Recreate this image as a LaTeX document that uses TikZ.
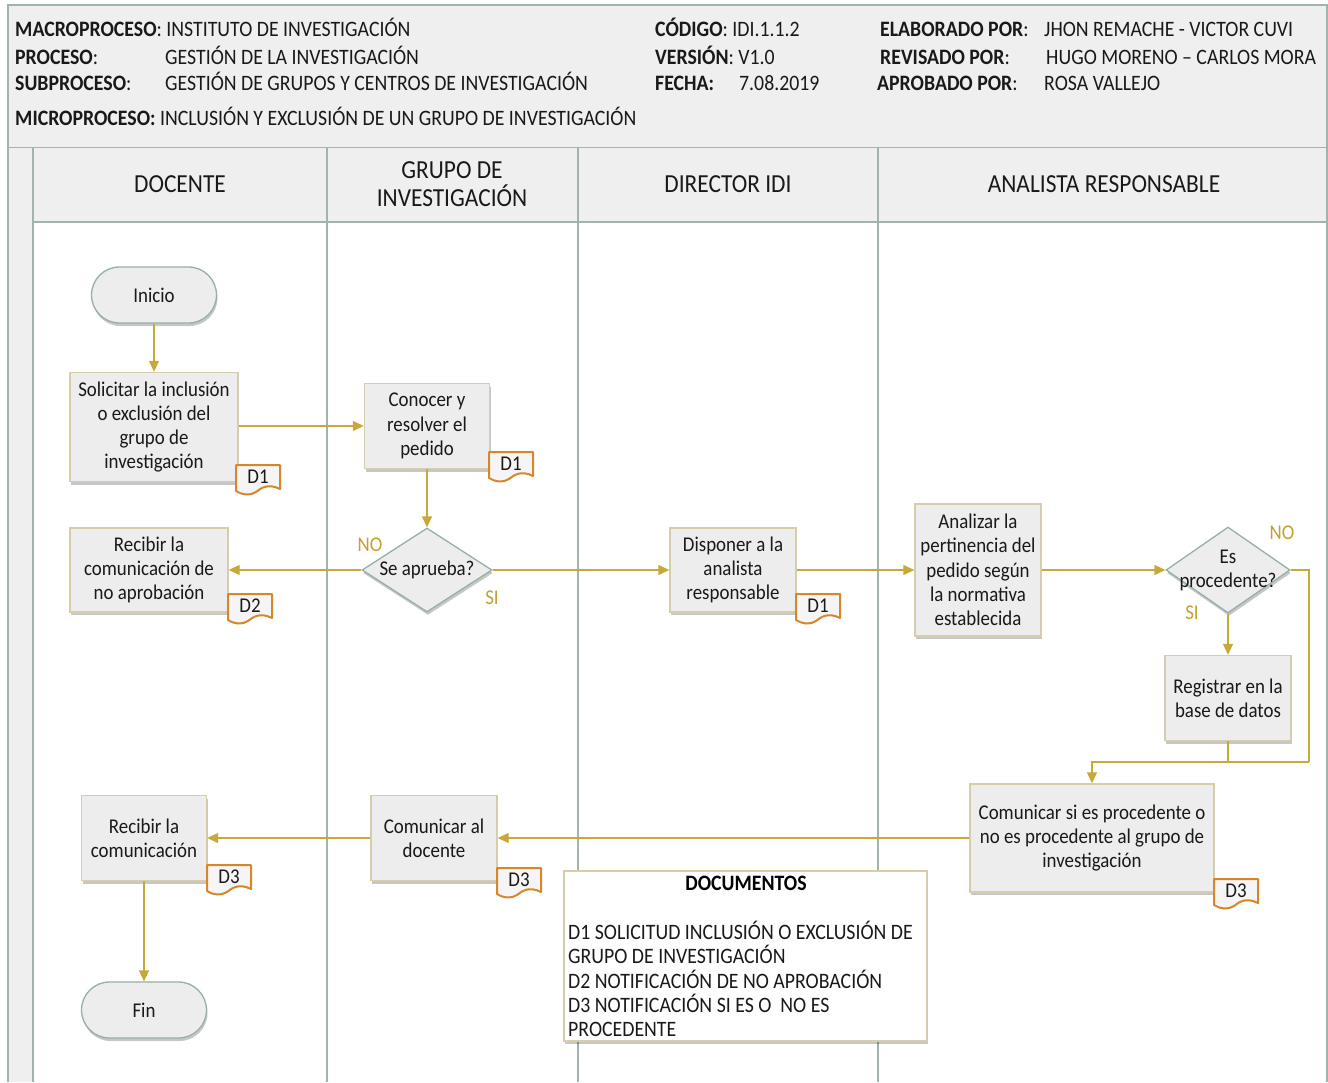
\documentclass[tikz,border=0pt]{standalone}
\usepackage{fontspec}
\setmainfont{Carlito}[FakeStretch=0.9]
\usetikzlibrary{arrows.meta,shapes.geometric,shadows}
\definecolor{frame}{RGB}{160,180,172}
\definecolor{hdrfill}{RGB}{239,239,239}
\definecolor{boxfill}{RGB}{237,237,237}
\definecolor{boxdraw}{RGB}{214,206,170}
\definecolor{termdraw}{RGB}{150,176,166}
\definecolor{flowc}{RGB}{201,168,58}
\definecolor{tagc}{RGB}{214,134,43}
\definecolor{lblc}{RGB}{196,160,50}
\tikzset{
  hdr/.style={inner sep=0pt, font=\fontsize{22}{26}\selectfont, text=black!90},
  lanehdr/.style={inner sep=0pt, font=\fontsize{26}{28}\selectfont, align=center, text=black!90},
  shad/.style={drop shadow={shadow xshift=1pt,shadow yshift=-3pt,opacity=0.22,fill=black}},
  proc/.style={draw=boxdraw, line width=1.4pt, fill=boxfill, shad, align=center, inner sep=2pt,
     font=\fontsize{21}{24.3}\selectfont, text=black!90},
  term/.style={draw=termdraw, line width=1.3pt, fill=boxfill, shad, rounded corners=28pt,
     minimum width=125pt, minimum height=56pt, font=\fontsize{21}{24}\selectfont, text=black!90},
  diam/.style={draw=termdraw, line width=1.3pt, fill=boxfill, shad, diamond, inner sep=0pt},
  dtext/.style={align=center, font=\fontsize{21}{24}\selectfont, text=black!90, inner sep=0pt},
  flow/.style={draw=flowc, line width=1.3pt, -{Triangle[length=11pt,width=10pt]}},
  fline/.style={draw=flowc, line width=1.3pt},
  yn/.style={text=lblc, font=\fontsize{21}{22}\selectfont, inner sep=0pt},
  tagshape/.style={draw=tagc, line width=2pt, fill=white!96!black, line join=round},
  tagtext/.style={font=\fontsize{21}{22}\selectfont, inner sep=0pt, text=black!90},
}
\newcommand\dtag[4]{%
  \filldraw[tagshape] (#2,#3) -- (#2+44,#3) -- (#2+44,#3+24)
     .. controls (#2+32,#3+18) and (#2+25,#3+23) .. (#2+20,#3+27)
     .. controls (#2+14,#3+31) and (#2+6,#3+30) .. (#2,#3+26) -- cycle;
  \node[tagtext] (#1) at (#2+22,#3+12) {#4};}
\begin{document}
\begin{tikzpicture}[x=1pt,y=-1pt]
\useasboundingbox (0,0) rectangle (1328,1082);
% frame and header
\fill[white] (0,0) rectangle (1328,1082);
\filldraw[fill=hdrfill, draw=frame, line width=1.2pt] (8,5) rectangle (1327,148);
\fill[hdrfill] (8,148) rectangle (33,1082);
\fill[hdrfill] (33,148) rectangle (1327,222);
\draw[frame, line width=1.2pt] (8,148) -- (8,1082);
\draw[frame, line width=1.2pt] (1327,148) -- (1327,1082);
\draw[frame, line width=1.2pt] (33,148) -- (33,1082);
\draw[frame, line width=1.2pt] (33,222) -- (1327,222);
\draw[frame, line width=1.2pt] (327,148) -- (327,1082);
\draw[frame, line width=1.2pt] (578,148) -- (578,1082);
\draw[frame, line width=1.2pt] (878,148) -- (878,1082);
% header texts
\node[hdr, anchor=base west] (h1) at (15,36) {\textbf{MACROPROCESO}: INSTITUTO DE INVESTIGACIÓN};
\node[hdr, anchor=base west] (h2) at (15,64) {\textbf{PROCESO}:};
\node[hdr, anchor=base west] (h2v) at (165,64) {GESTIÓN DE LA INVESTIGACIÓN};
\node[hdr, anchor=base west] (h3) at (15,90) {\textbf{SUBPROCESO}:};
\node[hdr, anchor=base west] (h3v) at (165,90) {GESTIÓN DE GRUPOS Y CENTROS DE INVESTIGACIÓN};
\node[hdr, anchor=base west] (h4) at (15,125) {\textbf{MICROPROCESO:} INCLUSIÓN Y EXCLUSIÓN DE UN GRUPO DE INVESTIGACIÓN};
\node[hdr, anchor=base west] (c1) at (655,36) {\textbf{CÓDIGO}: IDI.1.1.2};
\node[hdr, anchor=base west] (c2) at (655,64) {\textbf{VERSIÓN}: V1.0};
\node[hdr, anchor=base west] (c3) at (655,90) {\textbf{FECHA:}};
\node[hdr, anchor=base west] (c3v) at (739,90) {7.08.2019};
\node[hdr, anchor=base west] (e1) at (880,36) {\textbf{ELABORADO POR}:};
\node[hdr, anchor=base west] (e1v) at (1044,36) {JHON REMACHE - VICTOR CUVI};
\node[hdr, anchor=base west] (e2) at (880,64) {\textbf{REVISADO POR}:};
\node[hdr, anchor=base west] (e2v) at (1046,64) {HUGO MORENO – CARLOS MORA};
\node[hdr, anchor=base west] (e3) at (877,90) {\textbf{APROBADO POR}:};
\node[hdr, anchor=base west] (e3v) at (1044,90) {ROSA VALLEJO};
% lane headers
\node[lanehdr] (L1) at (180,184) {DOCENTE};
\node[lanehdr] (L2) at (452,184) {GRUPO DE\\INVESTIGACIÓN};
\node[lanehdr] (L3) at (728,184) {DIRECTOR IDI};
\node[lanehdr] (L4) at (1104,184) {ANALISTA RESPONSABLE};
% nodes
\node[term] (ini) at (154,295) {Inicio};
\node[proc, minimum width=168pt, minimum height=109pt] (sol) at (154,427) {Solicitar la inclusión\\o exclusión del\\grupo de\\investigación};
\node[proc, minimum width=125pt, minimum height=85pt] (con) at (427,426) {Conocer y\\resolver el\\pedido};
\node[diam, minimum width=130pt, minimum height=84pt] (dA) at (427,570) {};
\node[dtext] (dAt) at (dA) {Se aprueba?};
\node[proc, minimum width=158pt, minimum height=84pt] (rna) at (149,570) {Recibir la\\comunicación de\\no aprobación};
\node[proc, minimum width=126pt, minimum height=84pt] (dis) at (733,570) {Disponer a la\\analista\\responsable};
\node[proc, minimum width=126pt, minimum height=132pt] (ana) at (978,570) {Analizar la\\pertinencia del\\pedido según\\la normativa\\establecida};
\node[diam, minimum width=124pt, minimum height=86pt] (dB) at (1228,570) {};
\node[dtext] (dBt) at (dB) {Es\\procedente?};
\node[proc, minimum width=126pt, minimum height=85pt] (reg) at (1228,698) {Registrar en la\\base de datos};
\node[proc, minimum width=244pt, minimum height=108pt] (com) at (1092,838) {Comunicar si es procedente o\\no es procedente al grupo de\\investigación};
\node[proc, minimum width=126pt, minimum height=85pt] (cad) at (434,838) {Comunicar al\\docente};
\node[proc, minimum width=125pt, minimum height=85pt] (rc) at (144,838) {Recibir la\\comunicación};
\node[term] (fin) at (144,1010) {Fin};
% documents box
\node[draw=boxdraw, line width=1.4pt, fill=white, shad, minimum width=363pt, minimum height=170pt] (docs) at (745.5,956) {};
\node[inner sep=0pt, font=\fontsize{22}{24}\selectfont\bfseries] (docsT) at (746,883) {DOCUMENTOS};
\node[anchor=north west, inner sep=0pt, align=left, font=\fontsize{22}{24.3}\selectfont, text=black!90] (docsL) at (568,921)
 {D1 SOLICITUD INCLUSIÓN O EXCLUSIÓN DE\\GRUPO DE INVESTIGACIÓN\\D2 NOTIFICACIÓN DE NO APROBACIÓN\\D3 NOTIFICACIÓN SI ES O\ \ NO ES\\PROCEDENTE};
% document tags
\dtag{t1}{236}{465}{D1}
\dtag{t2}{489}{452}{D1}
\dtag{t3}{228}{594}{D2}
\dtag{t4}{796}{594}{D1}
\dtag{t5}{1214}{879}{D3}
\dtag{t6}{497}{868}{D3}
\dtag{t7}{207}{865}{D3}
% connectors
\coordinate (cR) at (1309,762);
\draw[flow] (ini) -- (sol);
\draw[flow] (sol.east |- con.west) -- (con.west);
\draw[flow] (con) -- (dA);
\draw[flow] (dA.west) -- (rna.east);
\draw[flow] (dA.east) -- (dis.west);
\draw[flow] (dis.east) -- (ana.west);
\draw[flow] (ana.east) -- (dB.west);
\draw[flow] (dB.south) -- (reg.north);
\draw[fline] (dB.east) -| (cR);
\draw[fline] (reg.south) -- (reg.south |- cR);
\draw[flow] (cR) -| (com.north);
\draw[flow] (com.west) -- (cad.east);
\draw[flow] (cad.west) -- (rc.east);
\draw[flow] (rc) -- (fin);
% labels
\node[yn] (noA) at (370,545) {NO};
\node[yn] (siA) at (492,598) {SI};
\node[yn] (noB) at (1282,533) {NO};
\node[yn] (siB) at (1192,613) {SI};
\end{tikzpicture}
\end{document}
